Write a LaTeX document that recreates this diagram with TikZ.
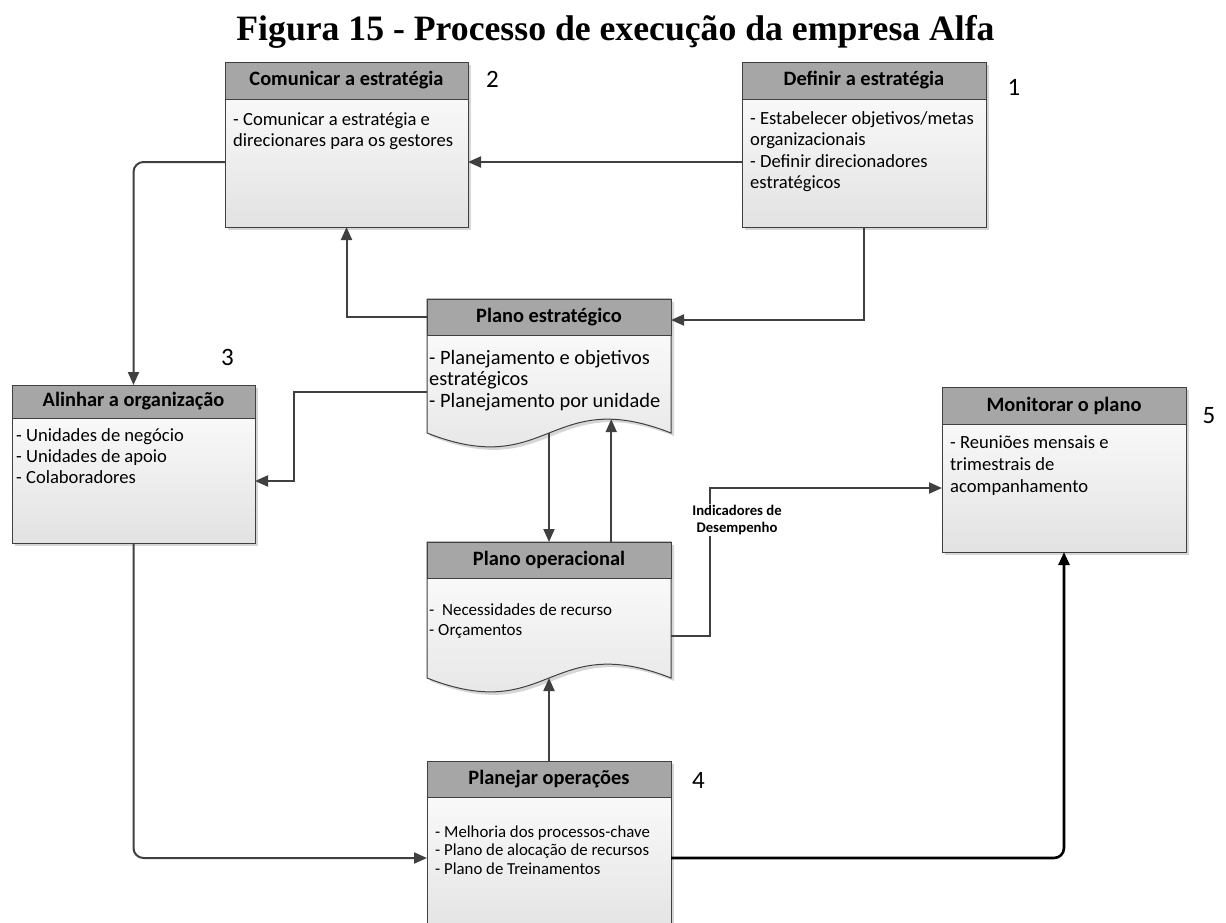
\documentclass[tikz,border=0pt]{standalone}
\usepackage{fontspec}
\setmainfont{Carlito}
\newfontfamily\titlefont{Liberation Serif}
\usetikzlibrary{arrows.meta,calc,shadows}

\definecolor{bordc}{HTML}{404040}
\definecolor{hdrc}{HTML}{A6A6A6}
\definecolor{botc}{HTML}{E2E2E2}
\definecolor{shc}{HTML}{D6D6D6}
\definecolor{linec}{HTML}{404040}

\tikzset{
  boxbody/.style={draw=bordc, line width=1pt, top color=white, bottom color=botc,
    inner sep=0pt, outer sep=0pt,
    drop shadow={shadow xshift=3pt, shadow yshift=-3pt, fill=shc, opacity=1}},
  docbox/.style={inner sep=0pt, outer sep=0pt},
  hdr/.style={draw=bordc, fill=hdrc, line width=1pt, inner sep=0pt, outer sep=0pt,
    font=\fontsize{20.4}{24}\selectfont\bfseries},
  txtA/.style={inner sep=0pt, align=left, anchor=north west, font=\fontsize{18.6}{21.5}\selectfont},
  txtB/.style={inner sep=0pt, align=left, anchor=north west, font=\fontsize{20.4}{21.5}\selectfont},
  txtC/.style={inner sep=0pt, align=left, anchor=north west, font=\fontsize{17}{20}\selectfont},
  txtD/.style={inner sep=0pt, align=left, anchor=north west, font=\fontsize{16.8}{18.7}\selectfont},
  numlbl/.style={inner sep=0pt, anchor=base, font=\fontsize{25}{30}\selectfont},
  arr/.style={draw=linec, line width=2pt, -{Triangle[length=13pt,width=11pt]}},
  arrk/.style={draw=black, line width=2.6pt, -{Triangle[length=13pt,width=11pt]}},
  indlbl/.style={fill=white, inner sep=1.5pt, align=center, font=\fontsize{14.7}{17}\selectfont\bfseries}
}

\begin{document}
\begin{tikzpicture}[x=1pt,y=-1pt]
\useasboundingbox (0,0) rectangle (1226,922);
\fill[white] (0,0) rectangle (1226,922);

% title
\node[inner sep=0pt, anchor=base, font=\titlefont\bfseries\fontsize{35.7}{40}\selectfont] (title) at (615.5,40.5) {Figura 15 - Processo de execução da empresa Alfa};

% ---- Comunicar a estrategia
\node[boxbody, minimum width=243pt, minimum height=165pt] (com) at (346.5,144.5) {};
\node[hdr, minimum width=243pt, minimum height=37pt, anchor=north] (comh) at (com.north) {Comunicar a estratégia};
\node[txtA] (comt) at (233,110) {\strut- Comunicar a estratégia e\\direcionares para os gestores};
\node[numlbl] (n2) at (492.5,87) {2};

% ---- Definir a estrategia
\node[boxbody, minimum width=244pt, minimum height=165pt] (def) at (864,144.5) {};
\node[hdr, minimum width=244pt, minimum height=37pt, anchor=north] (defh) at (def.north) {Definir a estratégia};
\node[txtA] (deft) at (750,109) {\strut- Estabelecer objetivos/metas\\organizacionais\\- Definir direcionadores\\estratégicos};
\node[numlbl] (n1) at (1014,95) {1};

% ---- Alinhar a organizacao
\node[boxbody, minimum width=243pt, minimum height=158pt] (ali) at (133.5,464) {};
\node[hdr, minimum width=243pt, minimum height=33pt, anchor=north] (alih) at (ali.north) {Alinhar a organização};
\node[txtA, font=\fontsize{18.6}{21}\selectfont] (alit) at (16,426.3) {\strut- Unidades de negócio\\- Unidades de apoio\\- Colaboradores};
\node[numlbl] (n3) at (227.5,365) {3};

% ---- Monitorar o plano
\node[boxbody, minimum width=244pt, minimum height=165pt] (mon) at (1064,469.5) {};
\node[hdr, minimum width=244pt, minimum height=37pt, anchor=north] (monh) at (mon.north) {Monitorar o plano};
\node[txtA, font=\fontsize{18.6}{22}\selectfont] (mont) at (950,432.6) {\strut- Reuniões mensais e\\trimestrais de\\acompanhamento};
\node[numlbl] (n5) at (1209,423) {5};

% ---- Plano estrategico (document shape)
\node[docbox, minimum width=244pt, minimum height=134pt] (ple) at (549,366) {};
\fill[shc, transform canvas={xshift=3pt,yshift=-3pt}] (ple.north west) -- (ple.north east) -- (ple.south east) .. controls ($(ple.south)+(0,-48)$) and ($(ple.south)+(0,48)$) .. (ple.south west) -- cycle;
\path[draw=bordc, line width=1pt, top color=white, bottom color=botc] (ple.north west) -- (ple.north east) -- (ple.south east) .. controls ($(ple.south)+(0,-48)$) and ($(ple.south)+(0,48)$) .. (ple.south west) -- cycle;
\path (ple.south west) .. controls ($(ple.south)+(0,48)$) and ($(ple.south)+(0,-48)$) .. (ple.south east) coordinate[pos=0.5] (pleM) coordinate[pos=0.803] (pleC);
\node[hdr, minimum width=244pt, minimum height=36pt, anchor=north] (pleh) at (ple.north) {Plano estratégico};
\node[txtB] (plet) at (429,349) {\strut- Planejamento e objetivos\\estratégicos\\- Planejamento por unidade};

% ---- Plano operacional (document shape)
\node[docbox, minimum width=244pt, minimum height=136pt] (plo) at (549,610) {};
\fill[shc, transform canvas={xshift=3pt,yshift=-3pt}] (plo.north west) -- (plo.north east) -- (plo.south east) .. controls ($(plo.south)+(0,-48)$) and ($(plo.south)+(0,48)$) .. (plo.south west) -- cycle;
\path[draw=bordc, line width=1pt, top color=white, bottom color=botc] (plo.north west) -- (plo.north east) -- (plo.south east) .. controls ($(plo.south)+(0,-48)$) and ($(plo.south)+(0,48)$) .. (plo.south west) -- cycle;
\path (plo.south west) .. controls ($(plo.south)+(0,48)$) and ($(plo.south)+(0,-48)$) .. (plo.south east) coordinate[pos=0.5] (ploM);
\node[hdr, minimum width=244pt, minimum height=36pt, anchor=north] (ploh) at (plo.north) {Plano operacional};
\node[txtC] (plot) at (429,601) {\strut-~ Necessidades de recurso\\- Orçamentos};

% ---- Planejar operacoes
\node[boxbody, minimum width=244pt, minimum height=179pt] (pla) at (549,850.5) {};
\node[hdr, minimum width=244pt, minimum height=36pt, anchor=north] (plah) at (pla.north) {Planejar operações};
\node[txtD] (plat) at (435,823.9) {\strut- Melhoria dos processos-chave\\- Plano de alocação de recursos\\- Plano de Treinamentos};
\node[numlbl] (n4) at (698.5,788) {4};

% ---- connectors
\draw[arr] ($(def.north west)+(0,100)$) -- ($(com.north east)+(0,100)$);
\draw[arr] (def.south) |- ($(ple.north east)+(0,21)$);
\draw[arr] ($(ple.north west)+(0,18)$) -| (com.south);
\draw[arr, rounded corners=10pt] ($(com.north west)+(0,100)$) -| (ali.north);
\draw[arr] ($(ple.north west)+(0,93)$) -- ++(-133,0) |- ($(ali.north east)+(0,96)$);
\draw[arr] (pleM) -- (pleM |- plo.north);
\draw[arr] (pleC |- plo.north) -- (pleC);
\draw[arr] ($(plo.north east)+(0,94)$) -- ++(39,0) |- ($(mon.north west)+(0,101)$);
\node[indlbl] (ind) at (737,520) {Indicadores de\\Desempenho};
\draw[arr] (ploM |- pla.north) -- (ploM);
\draw[arr, rounded corners=10pt] (ali.south) |- ($(pla.north west)+(0,97)$);
\draw[arrk, rounded corners=10pt] ($(pla.north east)+(0,97)$) -| (mon.south);
\end{tikzpicture}
\end{document}
